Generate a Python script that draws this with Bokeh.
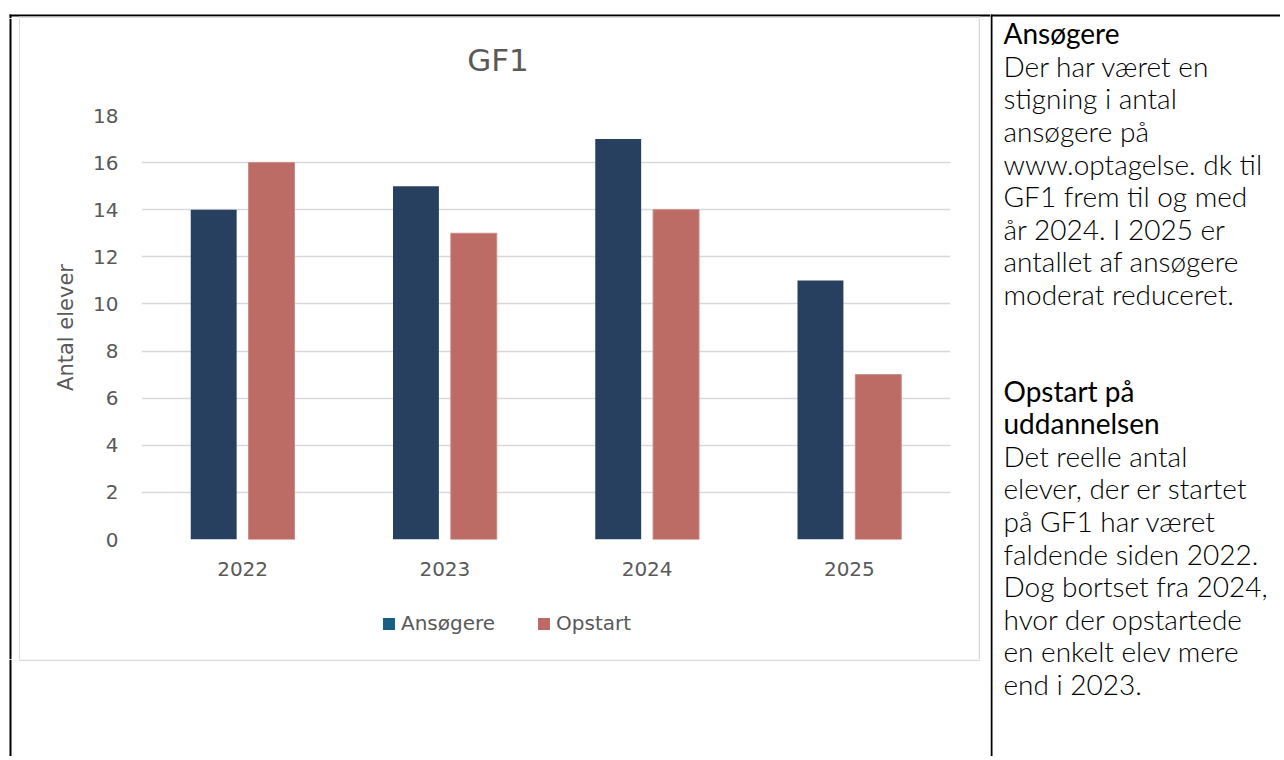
from bokeh.plotting import figure
from bokeh.layouts import row, column
from bokeh.models import (ColumnDataSource, FactorRange, Range1d, Legend, LegendItem,
                          Label, FixedTicker)
from bokeh.transform import dodge
from bokeh.embed import file_html
from bokeh.resources import INLINE

# ---------------- data ----------------
years = ["2022", "2023", "2024", "2025"]
ansogere = [14, 15, 17, 11]
opstart = [16, 13, 14, 7]
y_ticks = [0, 2, 4, 6, 8, 10, 12, 14, 16, 18]
chart_title = "GF1"
y_label = "Antal elever"
series_names = ["Ansøgere", "Opstart"]

side_heading_1 = ["Ansøgere"]
side_body_1 = ["Der har været en", "stigning i antal", "ansøgere på",
               "www.optagelse. dk til", "GF1 frem til og med",
               "år 2024. I 2025 er", "antallet af ansøgere", "moderat reduceret."]
side_heading_2 = ["Opstart på", "uddannelsen"]
side_body_2 = ["Det reelle antal", "elever, der er startet", "på GF1 har været",
               "faldende siden 2022.", "Dog bortset fra 2024,", "hvor der opstartede",
               "en enkelt elev mere", "end i 2023."]

# ---------------- geometry (page pixels) ----------------
TOTAL_W, TOTAL_H = 1280, 756
LEFT_W = 990                 # text column starts here
TOP_H = 18                   # strip above the chart box
COL_X0, COL_X1 = 20, 978     # chart column (inside the grey box)
COL_Y1 = 659                 # bottom of chart column
TITLE_Y1 = 90                # title figure bottom / bar chart top
CHART_Y1 = 600               # bar chart bottom / legend top
FX0, FX1 = 141, 950          # plot frame
FY0, FY1 = 115, 539

GREY = "#595959"
BOX_GREY = "#D9D9D9"
NAVY = "#284060"
RED = "#BC6B65"
SWATCH_BLUE = "#156082"
FONT = "DejaVu Sans"
BASE_SHIFT = 0.38            # empirical alphabetic-baseline correction (in em)


def blank_fig(w, h, x0=0, x1=None, y0=0, y1=None, **kw):
    x1 = w if x1 is None else x1
    y1 = h if y1 is None else y1
    f = figure(width=w, height=h, x_range=Range1d(x0, x1), y_range=Range1d(y1, y0),
               output_backend="svg", toolbar_location=None,
               x_axis_type=None, y_axis_type=None, **kw)
    f.outline_line_color = None
    f.grid.visible = False
    f.background_fill_color = "white"
    f.border_fill_color = "white"
    return f


def rect(f, l, r, t, b, color):
    f.quad(left=[l], right=[r], top=[t], bottom=[b], fill_color=color, line_color=None)


col_w = COL_X1 - COL_X0
side_borders = dict(min_border_left=FX0 - COL_X0, min_border_right=COL_X1 - FX1,
                    min_border_top=0, min_border_bottom=0)

# ---------- title figure (page coordinates) ----------
tfig = blank_fig(col_w, TITLE_Y1 - TOP_H, x0=FX0, x1=FX1, y0=TOP_H, y1=TITLE_Y1,
                 **side_borders)
tsize = 31
tfig.add_layout(Label(x=497.5, y=71.7 - BASE_SHIFT * tsize, text=chart_title,
                      text_align="center", text_baseline="alphabetic",
                      text_font=FONT, text_font_size=f"{tsize}px", text_color=GREY))

# ---------- bar chart ----------
p = figure(x_range=FactorRange(factors=years, range_padding=0),
           y_range=Range1d(0, 18),
           width=col_w, height=CHART_Y1 - TITLE_Y1,
           output_backend="svg", toolbar_location=None,
           min_border_left=FX0 - COL_X0, min_border_right=COL_X1 - FX1,
           min_border_top=FY0 - TITLE_Y1, min_border_bottom=CHART_Y1 - FY1)
p.outline_line_color = None
p.background_fill_color = "white"
p.border_fill_color = "white"
p.xgrid.grid_line_color = None
p.ygrid.grid_line_color = BOX_GREY
p.ygrid.grid_line_width = 1.5

p.yaxis.ticker = FixedTicker(ticks=y_ticks)
for ax in (p.xaxis[0], p.yaxis[0]):
    ax.axis_line_color = None
    ax.major_tick_line_color = None
    ax.minor_tick_line_color = None
    ax.major_tick_out = 0
    ax.major_tick_in = 0
    ax.major_label_text_font = FONT
    ax.major_label_text_font_size = "20px"
    ax.major_label_text_color = GREY
p.yaxis.major_label_standoff = 23
p.xaxis.major_label_standoff = 22
p.yaxis.axis_label = y_label
p.yaxis.axis_label_text_font = FONT
p.yaxis.axis_label_text_font_size = "21px"
p.yaxis.axis_label_text_font_style = "normal"
p.yaxis.axis_label_text_color = GREY
p.yaxis.axis_label_standoff = 12

src = ColumnDataSource(dict(years=years, ansogere=ansogere, opstart=opstart))
off = 0.143
bw = 0.227
p.vbar(x=dodge("years", -off, range=p.x_range), top="ansogere", width=bw,
       source=src, fill_color=NAVY, line_color=None)
p.vbar(x=dodge("years", off, range=p.x_range), top="opstart", width=bw,
       source=src, fill_color=RED, line_color="#C98A85", line_width=1)

# ---------- legend figure (page coordinates) ----------
lfig = blank_fig(col_w, COL_Y1 - CHART_Y1, x0=FX0, x1=FX1, y0=CHART_Y1, y1=COL_Y1,
                 **side_borders)
# swatch-only renderers, kept outside the visible range
leg_a = lfig.quad(left=[0], right=[1], top=[0], bottom=[1], fill_color=SWATCH_BLUE,
                  line_color=None)
leg_o = lfig.quad(left=[0], right=[1], top=[0], bottom=[1], fill_color=RED,
                  line_color=None)
row_h = 24
legend = Legend(items=[LegendItem(label=series_names[0], renderers=[leg_a]),
                       LegendItem(label=series_names[1], renderers=[leg_o])],
                orientation="horizontal",
                location=(381 - FX0, COL_Y1 - (623 - row_h / 2) - row_h),
                glyph_width=15, glyph_height=15, label_standoff=5, spacing=41,
                label_height=row_h,
                padding=0, margin=0, border_line_color=None,
                background_fill_alpha=0,
                label_text_font=FONT, label_text_font_size="20px",
                label_text_color=GREY)
lfig.add_layout(legend)

chart_col = column(tfig, p, lfig, spacing=0)

# ---------- strips with table lines and grey chart-box edges ----------
mid_h = COL_Y1 - TOP_H
top_strip = blank_fig(LEFT_W, TOP_H, min_border=0)
rect(top_strip, 9, LEFT_W, 14, 16, "black")
rect(top_strip, 9, 11, 14, TOP_H, "black")
rect(top_strip, 18.5, 979.5, 16, 17.5, BOX_GREY)

left_strip = blank_fig(COL_X0, mid_h, min_border=0)
rect(left_strip, 9, 11, 0, mid_h, "black")
rect(left_strip, 18.5, 20, 0, mid_h, BOX_GREY)

right_w = LEFT_W - COL_X1
right_strip = blank_fig(right_w, mid_h, min_border=0)
rect(right_strip, 0, 1.5, 0, mid_h, BOX_GREY)

bot_h = TOTAL_H - COL_Y1
bottom_strip = blank_fig(LEFT_W, bot_h, min_border=0)
rect(bottom_strip, 9, 11, 0, bot_h, "black")
rect(bottom_strip, 18.5, 979.5, 0, 1.5, BOX_GREY)

left_part = column(top_strip, row(left_strip, chart_col, right_strip, spacing=0),
                   bottom_strip, spacing=0)

# ---------- text column ----------
txt_w = TOTAL_W - LEFT_W
txt = blank_fig(txt_w, TOTAL_H, min_border=0)
rect(txt, 0, txt_w, 14, 16, "black")
rect(txt, 0, 2, 14, TOTAL_H, "black")

TX = 1003 - LEFT_W
LS = 32.6
fs = 28
first = [(t, True) for t in side_heading_1] + [(t, False) for t in side_body_1]
second = [(t, True) for t in side_heading_2] + [(t, False) for t in side_body_2]
for start, block in ((43.3, first), (400.7, second)):
    for i, (t, heading) in enumerate(block):
        txt.add_layout(Label(x=TX, y=start + i * LS - BASE_SHIFT * fs, text=t,
                             text_align="left", text_baseline="alphabetic",
                             text_font="Lato" if heading else "'Lato Light', Lato",
                             text_font_size=f"{fs}px", text_color="black"))

layout = row(left_part, txt, spacing=0)
open("out.html", "w").write(file_html(layout, INLINE))
